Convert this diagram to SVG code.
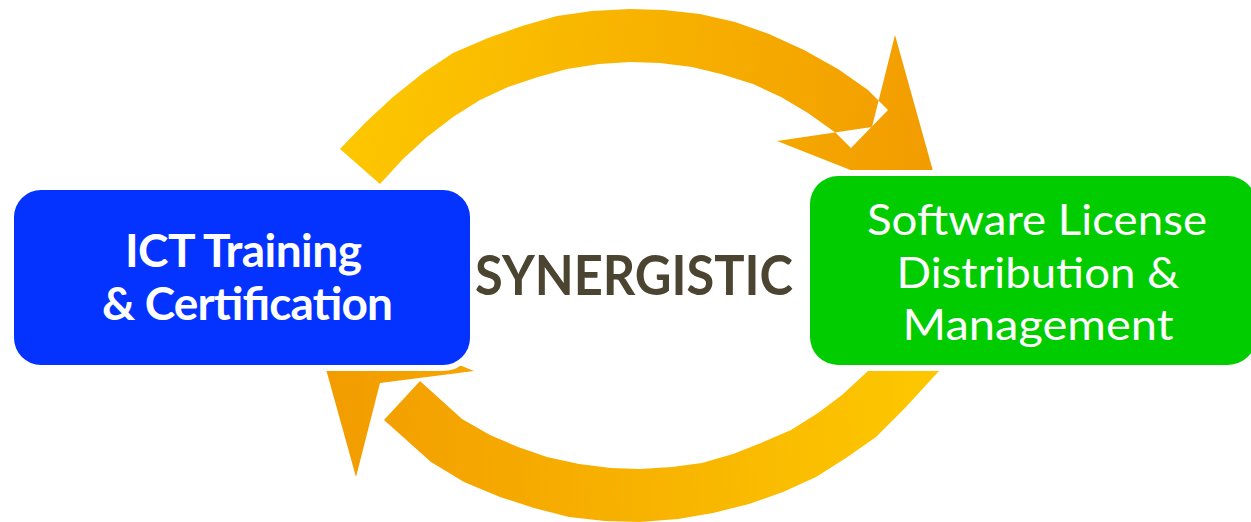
<svg xmlns="http://www.w3.org/2000/svg" width="1251" height="522" viewBox="0 0 1251 522">
<defs>
<linearGradient id="gTop" gradientUnits="userSpaceOnUse" x1="340" y1="60" x2="933" y2="150">
<stop offset="0" stop-color="#FDC800"/>
<stop offset="1" stop-color="#F29C00"/>
</linearGradient>
<linearGradient id="gBot" gradientUnits="userSpaceOnUse" x1="940" y1="400" x2="330" y2="420">
<stop offset="0" stop-color="#FDC800"/>
<stop offset="1" stop-color="#F29C00"/>
</linearGradient>
</defs>
<style>
.box{stroke:#FFFFFF;stroke-width:12;paint-order:stroke}
.bold{font-family:Lato,"Open Sans","Liberation Sans",sans-serif;font-weight:700;fill:#FFFFFF;text-anchor:middle}
.reg{font-family:Lato,"Open Sans","Liberation Sans",sans-serif;font-weight:400;fill:#FFFFFF;text-anchor:middle}
.syn{font-family:Lato,"Liberation Sans",sans-serif;font-weight:700;fill:#4A4430;text-anchor:middle}
</style>
<g id="connectors">
<path id="arrow-top" fill="url(#gTop)" fill-rule="evenodd" d="M340,149 L366,122 L393,97 L423,73 L453,53 L488,38 L522,26 L557,16 L592,11 L630,9 L664,10 L700,14 L735,22 L769,34 L804,50 L838,69 L868,90 L878,100 L888,110 L851,148 L836,133 L808,113 L781,97 L753,84 L721,74 L692,67 L660,63 L630,62 L599,64 L567,69 L538,77 L508,87 L480,100 L453,117 L427,137 L403,159 L380,184 Z M895,35 L933,171 L853,171 L777,141 L872,127 Z"/>
<path id="arrow-bottom" fill="url(#gBot)" d="M939,371 L905,408 L876,437 L846,458 L816,477 L783,492 L749,504 L713,513 L678,519 L640,522 L605,521 L569,517 L534,508 L500,497 L464,482 L431,462 L384,420 L420,381 L462,419 L490,435 L518,447 L547,457 L579,464 L611,468 L640,469 L672,467 L702,463 L733,454 L761,443 L791,430 L818,413 L842,395 L868,371 Z M324,362 L452,362 L474,371 L380,383 L356,477 Z"/>
</g>
<g id="node-ict">
<rect class="box" x="14" y="190" width="456" height="175" rx="27" ry="27" fill="#0433FF"/>
<text class="bold" x="243.5" y="267" font-size="46" textLength="237">ICT Training</text>
<text class="bold" x="247.5" y="320" font-size="46" textLength="291">&amp; Certification</text>
</g>
<g id="node-software">
<rect class="box" x="810" y="176" width="446" height="189" rx="28" ry="28" fill="#00CC00"/>
<text class="reg" x="1037" y="235" font-size="42" textLength="340" lengthAdjust="spacingAndGlyphs">Software License</text>
<text class="reg" x="1038" y="288" font-size="42" textLength="283" lengthAdjust="spacingAndGlyphs">Distribution &amp;</text>
<text class="reg" x="1038" y="340" font-size="42" textLength="271" lengthAdjust="spacingAndGlyphs">Management</text>
</g>
<g id="label-synergistic">
<text class="syn" x="634" y="295" font-size="55" textLength="318" lengthAdjust="spacingAndGlyphs">SYNERGISTIC</text>
</g>
</svg>
